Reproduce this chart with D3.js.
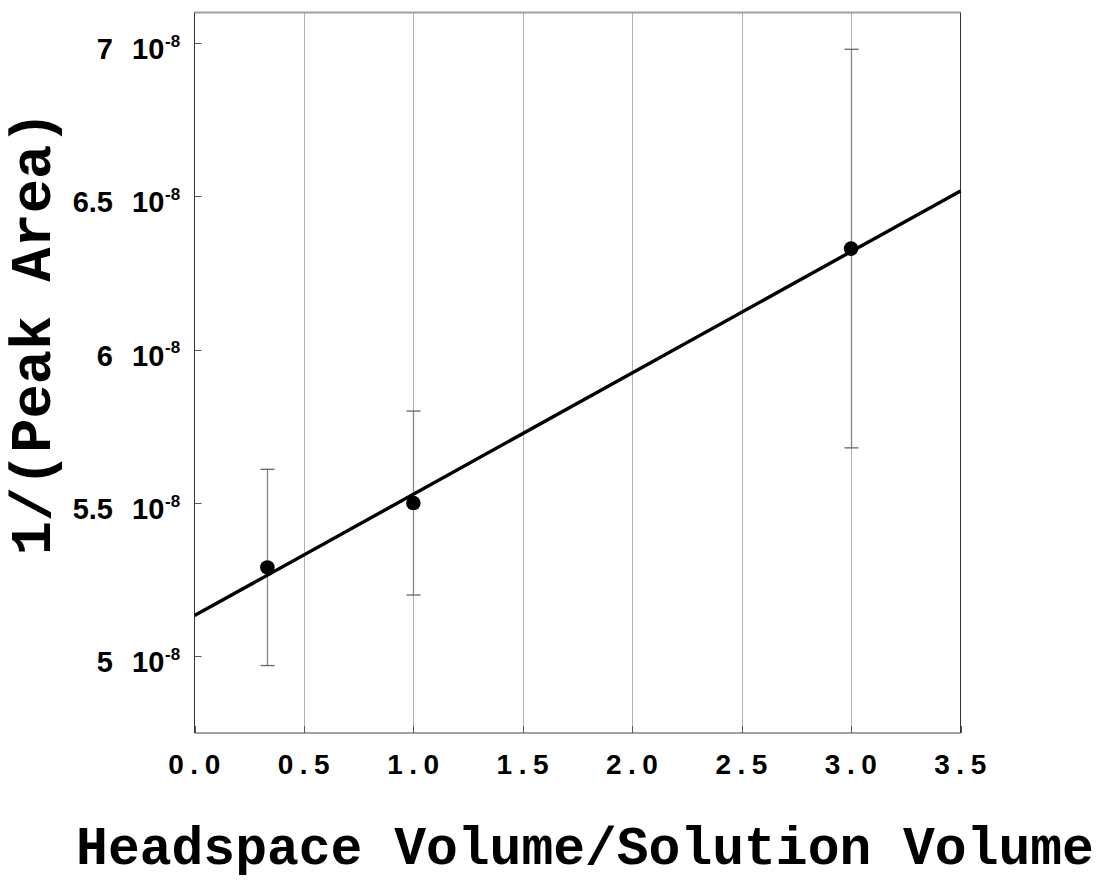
<!DOCTYPE html>
<html><head><meta charset="utf-8">
<script src="https://cdn.jsdelivr.net/npm/d3@7"></script>
<style>body{margin:0;background:#fff}svg{display:block}</style>
</head><body>
<svg id="c" width="1116" height="883"></svg>
<script>
// ---- data ----
const ratioX = [0.333, 1.0, 3.0];
const invArea = [5.29e-8, 5.50e-8, 6.33e-8];
const errHigh = [5.61e-8, 5.80e-8, 6.98e-8];
const errLow = [4.97e-8, 5.20e-8, 5.68e-8];
const fitX = [0, 3.5];
const fitY = [5.133e-8, 6.518e-8];
const xTicks = [0, 0.5, 1.0, 1.5, 2.0, 2.5, 3.0, 3.5];
const xTickLabels = ["0.0","0.5","1.0","1.5","2.0","2.5","3.0","3.5"];
const yTicks = [5e-8, 5.5e-8, 6e-8, 6.5e-8, 7e-8];
const yTickLabels = ["5","5.5","6","6.5","7"];
const xTitle = "Headspace Volume/Solution Volume";
const yTitle = "1/(Peak Area)";

const svg = d3.select("#c");
const L = 194.5, R = 960.5, T = 12.5, B = 733;
const x = d3.scaleLinear().domain([0, 3.5]).range([L, R]);
const y = d3.scaleLinear().domain([4.75e-8, 7.1e-8]).range([B, T]);

// grid
svg.append("g").selectAll("line").data(xTicks.slice(1, -1)).join("line")
  .attr("x1", d => Math.round(x(d)) + 0.5).attr("x2", d => Math.round(x(d)) + 0.5)
  .attr("y1", T).attr("y2", B).attr("stroke", "#b0b0b0").attr("stroke-width", 1);

// frame
svg.append("line").attr("x1", L).attr("x2", R).attr("y1", T).attr("y2", T).attr("stroke", "#a0a0a0").attr("stroke-width", 2);
svg.append("line").attr("x1", L).attr("x2", L).attr("y1", T).attr("y2", B).attr("stroke", "#333").attr("stroke-width", 1);
svg.append("line").attr("x1", R).attr("x2", R).attr("y1", T).attr("y2", B).attr("stroke", "#333").attr("stroke-width", 1);
svg.append("line").attr("x1", L).attr("x2", R).attr("y1", B).attr("y2", B).attr("stroke", "#444").attr("stroke-width", 1);

// ticks (inside)
svg.append("g").selectAll("line").data(yTicks).join("line")
  .attr("x1", L).attr("x2", L + 7).attr("y1", d => Math.round(y(d)) + 0.5).attr("y2", d => Math.round(y(d)) + 0.5)
  .attr("stroke", "#555").attr("stroke-width", 1);
svg.append("g").selectAll("line").data(xTicks).join("line")
  .attr("x1", d => Math.round(x(d)) + 0.5).attr("x2", d => Math.round(x(d)) + 0.5)
  .attr("y1", B).attr("y2", B - 7).attr("stroke", "#555").attr("stroke-width", 1);

// y tick labels
const yl = svg.append("g").attr("font-family", "'Liberation Sans', Arial, sans-serif").attr("font-weight", "bold").attr("fill", "#000");
yTicks.forEach((v, i) => {
  const py = y(v);
  yl.append("text").attr("x", 113).attr("y", py + 16).attr("text-anchor", "end").attr("font-size", 29).text(yTickLabels[i]);
  yl.append("text").attr("x", 132).attr("y", py + 16).attr("font-size", 29).text("10");
  yl.append("text").attr("x", 165).attr("y", py + 3.5).attr("font-size", 17).text("-8");
});

// x tick labels
svg.append("g").selectAll("text").data(xTicks).join("text")
  .attr("x", d => x(d) + 3).attr("y", 774)
  .attr("text-anchor", "middle")
  .attr("font-family", "'Liberation Sans', Arial, sans-serif").attr("font-weight", "bold")
  .attr("font-size", 28).attr("letter-spacing", 6.5)
  .text((d, i) => xTickLabels[i]);

// error bars
const eb = svg.append("g").attr("stroke", "#888").attr("stroke-width", 1.3);
ratioX.forEach((xv, i) => {
  const px = Math.round(x(xv)) + 0.5;
  eb.append("line").attr("x1", px).attr("x2", px).attr("y1", y(errLow[i])).attr("y2", y(errHigh[i]));
  eb.append("line").attr("x1", px - 7).attr("x2", px + 7).attr("y1", y(errLow[i])).attr("y2", y(errLow[i])).attr("stroke", "#666");
  eb.append("line").attr("x1", px - 7).attr("x2", px + 7).attr("y1", y(errHigh[i])).attr("y2", y(errHigh[i])).attr("stroke", "#666");
});

// fit line
svg.append("path").datum(fitX.map((d, i) => [d, fitY[i]]))
  .attr("d", d3.line().x(d => x(d[0])).y(d => y(d[1])))
  .attr("fill", "none").attr("stroke", "#000").attr("stroke-width", 3.4);

// points
svg.append("g").selectAll("circle").data(ratioX).join("circle")
  .attr("cx", d => x(d)).attr("cy", (d, i) => y(invArea[i])).attr("r", 7.3).attr("fill", "#000");

// axis titles
svg.append("text").attr("x", 585).attr("y", 864).attr("text-anchor", "middle")
  .attr("font-family", "'Liberation Mono', 'Courier New', monospace").attr("font-weight", "bold")
  .attr("font-size", 53).text(xTitle);
svg.append("text").attr("transform", "translate(50,333) rotate(-90)").attr("text-anchor", "middle")
  .attr("font-family", "'Liberation Mono', 'Courier New', monospace").attr("font-weight", "bold")
  .attr("font-size", 57).text(yTitle);
</script>
</body></html>
